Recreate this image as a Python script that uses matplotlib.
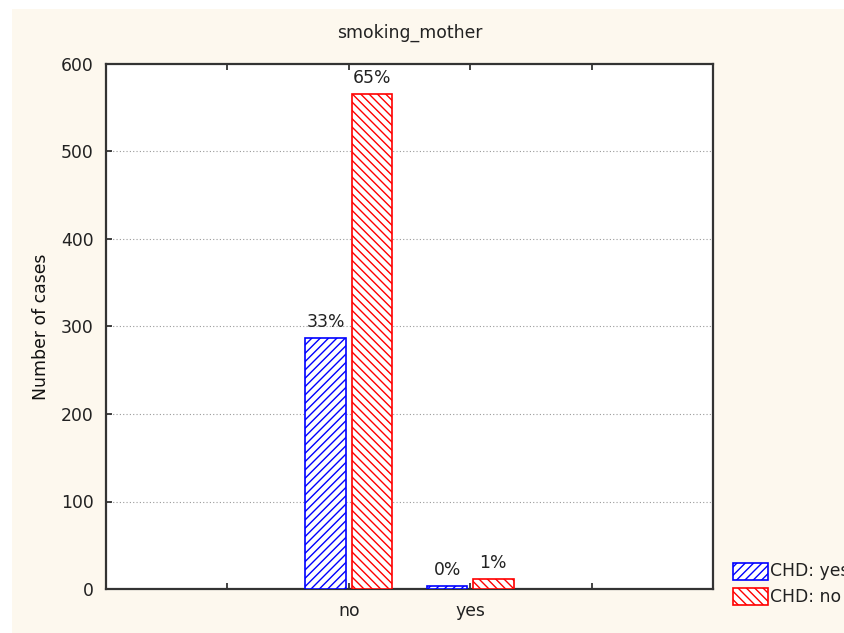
import matplotlib
matplotlib.use("Agg")
import matplotlib.pyplot as plt
from matplotlib.patches import Rectangle
import numpy as np

plt.rcParams['font.family'] = ['DejaVu Sans']
plt.rcParams['hatch.linewidth'] = 1.0

categories = ["no", "yes"]
series_names = ["CHD: yes", "CHD: no"]
chd_yes = [287, 4]
chd_no = [566, 12]
colors = ["#0000ff", "#ff0000"]
hatches = ["////", "\\\\\\\\"]

W, H = 845, 633
FS = 12.4
fig = plt.figure(figsize=(W / 100, H / 100), dpi=100)
fig.patch.set_facecolor("#fdf8ee")
# thin white strips along the left and top edges
fig.add_artist(Rectangle((0, 0), 12 / W, 1, transform=fig.transFigure,
                         facecolor="white", edgecolor="none", zorder=-10))
fig.add_artist(Rectangle((0, 1 - 9 / H), 1, 9 / H, transform=fig.transFigure,
                         facecolor="white", edgecolor="none", zorder=-10))

ax = fig.add_axes([106 / W, 44 / H, 607 / W, 525 / H])
ax.set_facecolor("white")

total = sum(chd_yes) + sum(chd_no)
xpos = np.array([2, 3])
width = 0.335
offset = 0.19
for vals, col, hat, sign in [(chd_yes, colors[0], hatches[0], -1),
                             (chd_no, colors[1], hatches[1], 1)]:
    bars = ax.bar(xpos + sign * offset, vals, width=width, facecolor="white",
                  edgecolor=col, hatch=hat, linewidth=1.2, zorder=3)
    for b, v in zip(bars, vals):
        ax.annotate(f"{round(100 * v / total)}%",
                    (b.get_x() + b.get_width() / 2, v),
                    xytext=(0, 7.5), textcoords="offset points",
                    ha="center", va="baseline", fontsize=FS, color="#222222")

ax.set_xlim(0, 5)
ax.set_ylim(0, 600)
ax.set_xticks([1, 2, 3, 4])
ax.set_xticklabels(["", "no", "yes", ""])
ax.set_yticks(np.arange(0, 601, 100))
ax.tick_params(axis="both", direction="in", length=4, width=1.2,
               labelsize=FS, labelcolor="#222222", color="#222222")
ax.tick_params(axis="x", top=True, pad=9)
ax.tick_params(axis="y", pad=9)
for y in range(100, 600, 100):
    ax.axhline(y, color="#9a9a9a", linestyle=(0, (1, 2)), linewidth=0.8, zorder=1)
for s in ax.spines.values():
    s.set_linewidth(1.6)
    s.set_color("#333333")

ax.set_ylabel("Number of cases", fontsize=FS, color="#111111", labelpad=8)
ax.set_title("smoking_mother", fontsize=FS, color="#222222", pad=19)

# legend drawn in figure coordinates
for i, (name, col, hat) in enumerate(zip(series_names, colors, hatches)):
    y0 = 1 - (580 + 25 * i) / H
    fig.add_artist(Rectangle((733 / W, y0), 35 / W, 17 / H,
                             transform=fig.transFigure, facecolor="white",
                             edgecolor=col, hatch=hat, linewidth=1.2))
    fig.text(770 / W, y0 + 8.5 / H, name, fontsize=FS, color="#222222",
             va="center", ha="left")

fig.savefig("out.png", dpi=100, facecolor=fig.get_facecolor())
